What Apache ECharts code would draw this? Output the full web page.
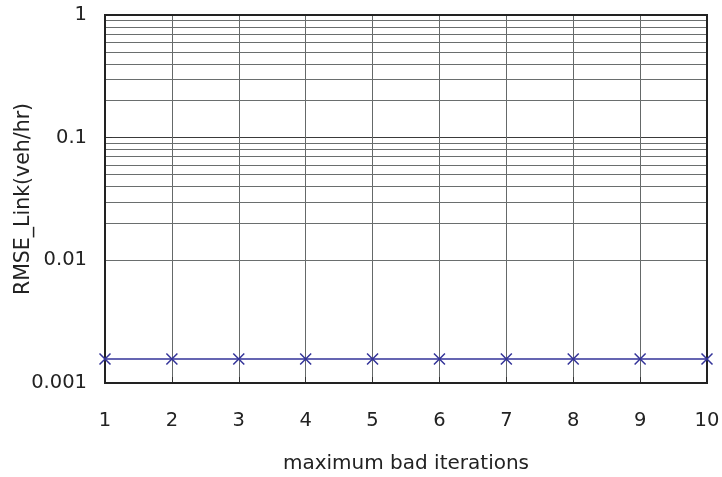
<!DOCTYPE html>
<html><head><meta charset="utf-8">
<script src="https://cdn.jsdelivr.net/npm/echarts@6/dist/echarts.min.js"></script>
<style>html,body{margin:0;padding:0;background:#fff}#c{width:722px;height:477px}</style>
</head><body><div id="c"></div>
<script>
var iterations = [1, 2, 3, 4, 5, 6, 7, 8, 9, 10];
var rmseLink = [0.00157, 0.00157, 0.00157, 0.00157, 0.00157, 0.00157, 0.00157, 0.00157, 0.00157, 0.00157];
var majorTicks = [0.001, 0.01, 0.1, 1];
var minorMultipliers = [2, 3, 4, 5, 6, 7, 8, 9];
var xName = 'maximum bad iterations';
var yName = 'RMSE_Link(veh/hr)';

var minorValues = [];
for (var i = 0; i < majorTicks.length - 1; i++) {
  for (var j = 0; j < minorMultipliers.length; j++) {
    minorValues.push(+(majorTicks[i] * minorMultipliers[j]).toPrecision(3));
  }
}
var FONT = 'DejaVu Sans';
var chart = echarts.init(document.getElementById('c'));
chart.setOption({
  animation: false,
  grid: { left: 105, right: 15, top: 15, bottom: 94, containLabel: false, outerBoundsMode: 'none',
          show: true, borderColor: '#222', borderWidth: 2, backgroundColor: 'transparent', z: 10 },
  xAxis: {
    type: 'value', min: 1, max: 10, interval: 1,
    name: xName, nameLocation: 'middle', nameGap: 71, nameMoveOverlap: false,
    nameTextStyle: { fontFamily: FONT, fontSize: 20, color: '#222' },
    axisLine: { show: true, lineStyle: { color: '#222', width: 2 } },
    axisTick: { show: true, inside: true, length: 6, lineStyle: { color: '#333', width: 1 } },
    axisLabel: { fontFamily: FONT, fontSize: 19.5, color: '#222', margin: 28 },
    splitLine: { show: true, lineStyle: { color: '#656969', width: 1 } }
  },
  yAxis: {
    type: 'log', logBase: 10, min: 0.001, max: 1,
    name: yName, nameLocation: 'middle', nameGap: 71, nameMoveOverlap: false,
    nameTextStyle: { fontFamily: FONT, fontSize: 20.5, color: '#222' },
    axisLine: { show: true, lineStyle: { color: '#222', width: 2 } },
    axisTick: { show: true, inside: true, length: 7, lineStyle: { color: '#333', width: 1 } },
    axisLabel: { fontFamily: FONT, fontSize: 19.5, color: '#222', margin: 18, padding: [6, 0, 0, 0],
      formatter: function (v) { return String(+v.toPrecision(3)); } },
    splitLine: { show: true, lineStyle: { color: '#3a3a3a', width: 1 } }
  },
  series: [{
    type: 'line',
    data: iterations.map(function (x, k) { return [x, rmseLink[k]]; }),
    lineStyle: { color: '#333399', width: 1.5 },
    symbol: 'path://M0,0L10,10M10,0L0,10',
    symbolSize: 11,
    itemStyle: { color: 'none', borderColor: '#333399', borderWidth: 1.5 },
    z: 20,
    markLine: {
      silent: true, symbol: 'none', label: { show: false },
      lineStyle: { color: '#6a6e6e', type: 'solid', width: 1 },
      data: minorValues.map(function (v) { return { yAxis: v }; }),
      z: 1
    }
  }]
});
</script></body></html>
